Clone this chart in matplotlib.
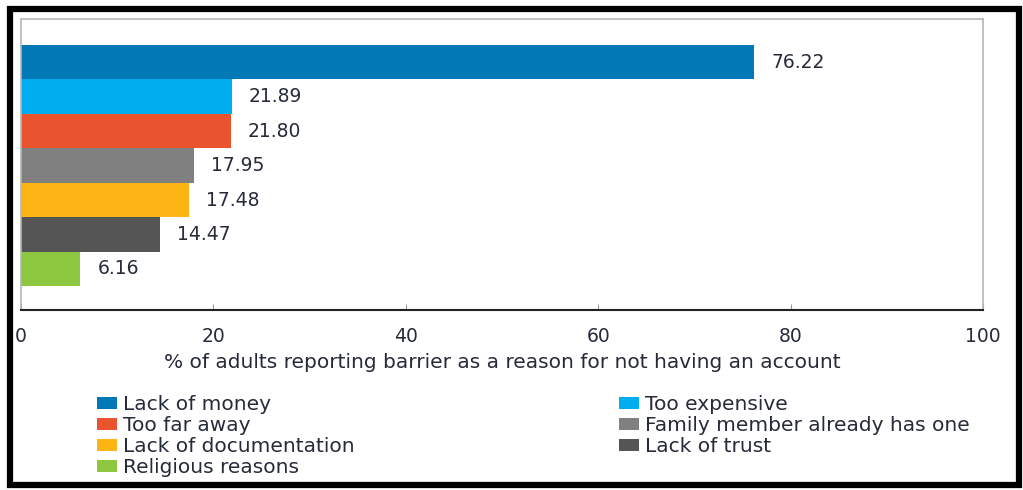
import matplotlib
matplotlib.use("Agg")
import matplotlib.pyplot as plt
from matplotlib.patches import Patch, Rectangle

categories = ["Lack of money", "Too expensive", "Too far away",
              "Family member already has one", "Lack of documentation",
              "Lack of trust", "Religious reasons"]
values = [76.22, 21.89, 21.80, 17.95, 17.48, 14.47, 6.16]
labels = ["76.22", "21.89", "21.80", "17.95", "17.48", "14.47", "6.16"]
colors = ["#0079B6", "#00AEEF", "#E9532D", "#808080", "#FDB515", "#555555", "#8DC63F"]
xticks = [0, 20, 40, 60, 80, 100]

plt.rcParams['font.family'] = ['DejaVu Sans']
txt = "#262a3a"

fig = plt.figure(figsize=(10.23, 4.90), dpi=100)
ax = fig.add_axes([21/1023, 1-310/490, (983-21)/1023, (310-19)/490])

pos = list(range(len(categories)))
ax.barh(pos, values, height=1.0, color=colors, edgecolor='none')
for p, v, l in zip(pos, values, labels):
    ax.annotate(l, (v, p), xytext=(17, 0), textcoords='offset pixels',
                va='center', ha='left', fontsize=13.5, color=txt)

ax.set_xlim(0, 100)
ax.set_ylim(7.19, -1.25)
ax.set_yticks([])
ax.set_xticks(xticks)
ax.set_xticklabels([str(t) for t in xticks], fontsize=13.5, color=txt)
ax.tick_params(axis='x', direction='in', length=4, color='#999999', pad=12)
for s in ['top', 'right', 'left']:
    ax.spines[s].set_color('#b5b5b5')
    ax.spines[s].set_linewidth(1.2)
ax.spines['bottom'].set_color('#222222')
ax.spines['bottom'].set_linewidth(1.5)
ax.set_xlabel("% of adults reporting barrier as a reason for not having an account",
              fontsize=14.5, color=txt, labelpad=5)

left_idx = [0, 2, 4, 6]
right_idx = [1, 3, 5]
def mk(idx):
    return [Patch(facecolor=colors[i], edgecolor='none', label=categories[i]) for i in idx]

common = dict(frameon=False, fontsize=14.5, handlelength=1.0, handleheight=0.55,
              handletextpad=0.3, labelspacing=0.1, borderpad=0, borderaxespad=0,
              labelcolor=txt)
leg1 = fig.legend(handles=mk(left_idx), loc='upper left',
                  bbox_to_anchor=(97/1023, 1-395/490), **common)
leg2 = fig.legend(handles=mk(right_idx), loc='upper left',
                  bbox_to_anchor=(619/1023, 1-395/490), **common)

fig.patches.append(Rectangle((10/1023, 1-485/490), (1019-10)/1023, (485-9)/490,
                             transform=fig.transFigure, fill=False,
                             edgecolor='black', linewidth=4.5))

fig.savefig("out.png", dpi=100)
